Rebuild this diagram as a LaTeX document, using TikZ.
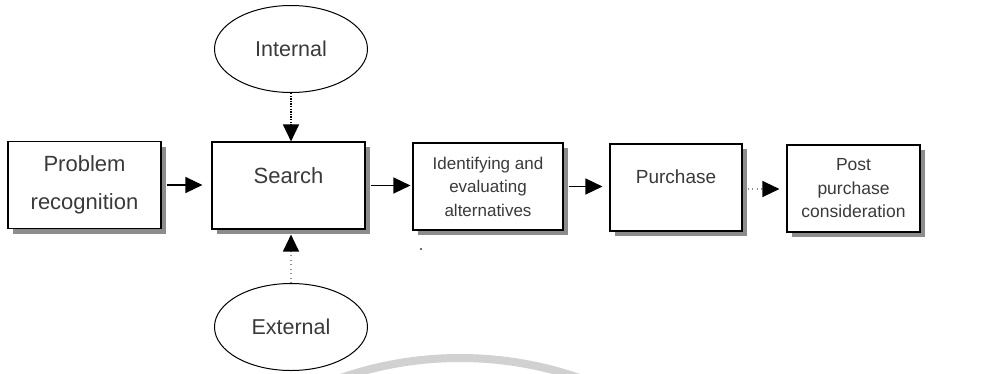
\documentclass[tikz,border=0pt]{standalone}
\usepackage{fontspec}
\setmainfont{Liberation Sans}
\usepackage{xcolor}
\usepackage{tikz}
\usetikzlibrary{arrows.meta,shapes.geometric,shadows}
\definecolor{scangray}{HTML}{8C8C8C}
\definecolor{inkgray}{HTML}{3A3A3A}

\begin{document}
\begin{tikzpicture}[x=1pt, y=-1pt,
  >={Triangle[length=17pt,width=16pt]},
  stage/.style={draw=black, line width=1.1pt, fill=white, text=inkgray, align=center,
    minimum height=87pt,
    drop shadow={shadow xshift=5pt, shadow yshift=-5pt, fill=scangray, opacity=1}},
  source/.style={ellipse, draw=black, line width=1pt, text=inkgray,
    minimum width=153pt, minimum height=87pt, font=\fontsize{21.5}{26}\selectfont},
  flow/.style={->, line width=1.3pt},
  inward/.style={->, line width=1.3pt, dash pattern=on 1.3pt off 1.3pt},
  faint/.style={-{Triangle[length=17pt,width=16pt,color=black]}, line width=1.2pt,
    draw=scangray, dash pattern=on 1pt off 3.5pt}]
  \useasboundingbox (0,0) rectangle (1007,373);

  % Wasserzeichen
  \begin{scope}
    \clip (0,0) rectangle (1007,373);
    \draw[line width=8pt, black!18] (460,722) circle (364pt);
  \end{scope}

  % Stufen
  \node[stage, minimum width=153pt, font=\fontsize{22}{38}\selectfont] (prob) at (84.5,185) {Problem\\recognition};
  \node[stage, minimum width=153pt, font=\fontsize{22}{26}\selectfont,
    text height=16pt, text depth=21pt] (srch) at (288.5,185.5) {Search};
  \node[stage, minimum width=150pt, font=\fontsize{17}{23.5}\selectfont] (iden) at (488,186.5) {Identifying and\\evaluating\\alternatives};
  \node[stage, minimum width=132pt, font=\fontsize{19}{23}\selectfont,
    text height=14pt, text depth=23pt] (purch) at (676,187.5) {Purchase};
  \node[stage, minimum width=133pt, font=\fontsize{17.5}{23.5}\selectfont] (post) at (853.5,188.5) {Post\\purchase\\consideration};

  % Quellen
  \node[source] (int) at (291,49) {Internal};
  \node[source] (ext) at (291,327) {External};

  % Pfeile
  \draw[flow, shorten <=5pt, shorten >=9pt] (prob.east) -- (prob.east -| srch.west);
  \draw[flow, shorten <=5pt, shorten >=2pt] (srch.east) -- (srch.east -| iden.west);
  \draw[flow, shorten <=5pt, shorten >=7pt] (iden.east) -- (iden.east -| purch.west);
  \draw[faint, shorten <=5pt, shorten >=7pt] ([yshift=-1.5pt]purch.east) -- ([yshift=-1.5pt]purch.east -| post.west);
  \draw[inward] (int.south) -- (int.south |- srch.north);
  \draw[faint, shorten >=5pt] (ext.north) -- (ext.north |- srch.south);

  \fill[inkgray] (421,249) circle (1.2pt);
\end{tikzpicture}
\end{document}
